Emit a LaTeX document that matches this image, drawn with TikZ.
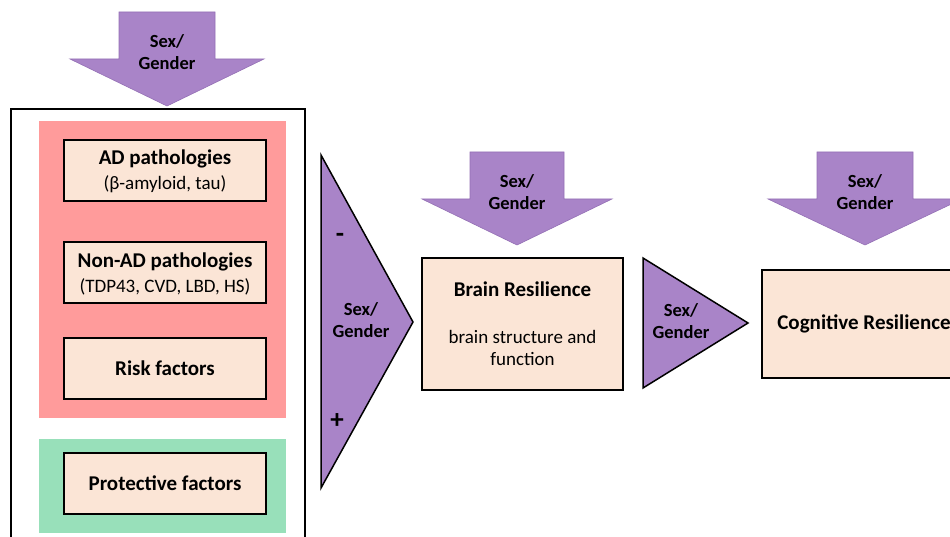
\documentclass[tikz,border=0pt]{standalone}
\usepackage{fontspec}
\setmainfont{Carlito}
\definecolor{purp}{HTML}{A984C8}
\definecolor{purpedge}{HTML}{9470B5}
\definecolor{redbg}{HTML}{FF9B9B}
\definecolor{greenbg}{HTML}{98E0BA}
\definecolor{peach}{HTML}{FBE5D6}
\tikzset{
  sexarrow/.style={fill=purp, draw=purpedge, line width=0.6pt, line join=miter},
  sextri/.style={fill=purp, draw=black, line width=1.5pt, line join=miter},
  factorbox/.style={draw=black, line width=2pt, fill=peach, minimum width=202pt, minimum height=61pt, inner sep=0pt, align=center, font=\fontsize{19}{25}\selectfont},
  sexlabel/.style={align=center, inner sep=0pt, font=\fontsize{18.5}{22}\selectfont\bfseries},
  signlabel/.style={inner sep=0pt, font=\fontsize{27}{27}\selectfont\bfseries},
}
\begin{document}
\begin{tikzpicture}[x=1pt, y=-1pt]
\useasboundingbox (0,0) rectangle (950,537);
\clip (0,0) rectangle (950,537);
\fill[white] (0,0) rectangle (950,537);

% top-left Sex/Gender arrow
\draw[sexarrow] (119,12) -- (215,12) -- (215,59) -- (264,59) -- (167,106) -- (70,59) -- (119,59) -- cycle;
\node[sexlabel] (sg1) at (167,52) {Sex/\\Gender};

% outer box
\draw[line width=1.5pt] (11,545) -- (11,109) -- (305,109) -- (305,545);

% backgrounds
\fill[redbg] (39,121) rectangle (286,418);
\fill[greenbg] (39,439) rectangle (286,533);

% factor boxes
\node[factorbox] (ad) at (165,170.5) {};
\node[font=\fontsize{21}{25}\selectfont\bfseries, inner sep=0pt] (adt) at (165,159) {AD pathologies};
\node[font=\fontsize{19}{25}\selectfont, inner sep=0pt] (ads) at (165,184) {(β-amyloid, tau)};
\node[factorbox] (nonad) at (165,272.5) {};
\node[font=\fontsize{21}{25}\selectfont\bfseries, inner sep=0pt] (nonadt) at (165,262) {Non-AD pathologies};
\node[font=\fontsize{19}{25}\selectfont, inner sep=0pt] (nonads) at (165,287) {(TDP43, CVD, LBD, HS)};
\node[factorbox, font=\fontsize{21}{25}\selectfont\bfseries] (risk) at (165,368.5) {Risk factors};
\node[factorbox, font=\fontsize{21}{25}\selectfont\bfseries] (prot) at (165,483.5) {Protective factors};

% left triangle
\draw[sextri] (321,155) -- (413,322) -- (321,488) -- cycle;
\node[signlabel] (minus) at (340,238) {-};
\node[signlabel] (plus) at (337,421) {+};
\node[sexlabel] (sg2) at (361,320) {Sex/\\Gender};

% brain resilience
\draw[sexarrow] (470,152) -- (564,152) -- (564,199) -- (612,199) -- (517,245) -- (422,199) -- (470,199) -- cycle;
\node[sexlabel] (sg3) at (517,192) {Sex/\\Gender};
\node[draw=black, line width=2pt, fill=peach, minimum width=201pt, minimum height=132pt, inner sep=0pt, align=center, font=\fontsize{19}{22}\selectfont] (brain) at (522.5,324)
  {{\fontsize{21}{22}\selectfont\bfseries Brain Resilience}\\[25pt]brain structure and\\function};

% middle triangle
\draw[sextri] (643,258) -- (748,323) -- (643,388) -- cycle;
\node[sexlabel] (sg4) at (681,321) {Sex/\\Gender};

% cognitive resilience
\draw[sexarrow] (817,152) -- (913,152) -- (913,199) -- (962,199) -- (865,245) -- (768,199) -- (817,199) -- cycle;
\node[sexlabel] (sg5) at (865,192) {Sex/\\Gender};
\node[draw=black, line width=2pt, fill=peach, minimum width=204pt, minimum height=108pt, inner sep=0pt, font=\fontsize{21}{22}\selectfont\bfseries] (cog) at (864,324) {Cognitive Resilience};
\end{tikzpicture}
\end{document}
